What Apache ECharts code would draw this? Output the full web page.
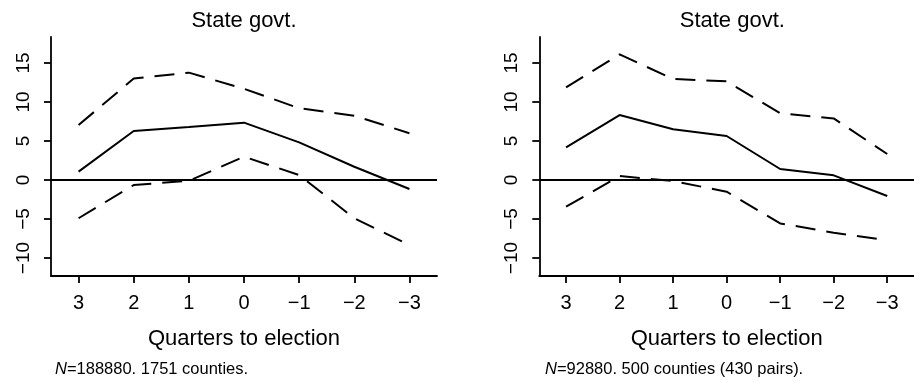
<!DOCTYPE html>
<html>
<head>
<meta charset="utf-8">
<script src="https://cdn.jsdelivr.net/npm/echarts@6/dist/echarts.min.js"></script>
<style>
html,body{margin:0;padding:0;background:#fff;}
#chart{width:914px;height:382px;}
</style>
</head>
<body>
<div id="chart"></div>
<script>
// Data
const quarters = [3, 2, 1, 0, -1, -2, -3];
const yTicks = [-10, -5, 0, 5, 10, 15];
const panelTitles = ['State govt.', 'State govt.'];
const xAxisTitle = 'Quarters to election';
const footnotes = ['=188880. 1751 counties.', '=92880. 500 counties (430 pairs).'];

const leftEstimate = [1.07, 6.28, 6.8, 7.35, 4.83, 1.7, -1.15];
const leftUpper = [7.05, 13.0, 13.76, 11.7, 9.2, 8.25, 6.0];
const leftLower = [-4.9, -0.64, -0.1, 2.99, 0.64, -4.9, -8.33];

const rightEstimate = [4.19, 8.33, 6.5, 5.64, 1.41, 0.6, -2.05];
const rightUpper = [11.88, 16.1, 12.95, 12.65, 8.55, 7.9, 3.33];
const rightLower = [-3.42, 0.51, -0.13, -1.5, -5.56, -6.75, -7.7];

const FONT = '"Liberation Sans", Arial, Helvetica, sans-serif';
const fmt = v => (v < 0 ? '\u2212' + Math.abs(v) : String(v));
const pair = arr => quarters.map((q, i) => [q, arr[i]]);

const grids = [
  {left: 51, right: 477, top: 37, bottom: 106},
  {left: 539.3, right: -11.7, top: 37, bottom: 106}
];

function xAxis(idx) {
  return {
    type: 'value', gridIndex: idx, inverse: true, min: -3.5, max: 3.5,
    splitLine: {show: false},
    axisLine: {show: true, onZero: false, lineStyle: {color: '#000', width: 1.8}},
    axisTick: {show: true, customValues: quarters, length: 7, lineStyle: {color: '#000', width: 1.8}},
    axisLabel: {customValues: quarters, formatter: fmt, color: '#000', fontSize: 20, fontFamily: FONT, margin: 17},
    name: xAxisTitle, nameLocation: 'middle', nameGap: 52,
    nameTextStyle: {color: '#000', fontSize: 22, fontFamily: FONT}
  };
}
function yAxis(idx) {
  return {
    type: 'value', gridIndex: idx, min: -12.3, max: 18.33,
    splitLine: {show: false},
    axisLine: {show: true, onZero: false, lineStyle: {color: '#000', width: 1.8}},
    axisTick: {show: true, customValues: yTicks, length: 7, lineStyle: {color: '#000', width: 1.8}},
    axisLabel: {customValues: yTicks, formatter: fmt, rotate: 90, color: '#000', fontSize: 19, fontFamily: FONT, margin: 18}
  };
}

function series(idx, est, up, lo) {
  const base = {type: 'line', xAxisIndex: idx, yAxisIndex: idx, symbol: 'none', silent: true, animation: false};
  return [
    Object.assign({}, base, {data: pair(est), lineStyle: {color: '#000', width: 2, type: 'solid'},
      markLine: {silent: true, symbol: 'none', label: {show: false},
        lineStyle: {color: '#000', width: 2, type: 'solid'}, data: [{yAxis: 0}], animation: false}}),
    Object.assign({}, base, {data: pair(up), lineStyle: {color: '#000', width: 2, type: [20, 11]}}),
    Object.assign({}, base, {data: pair(lo), lineStyle: {color: '#000', width: 2, type: [20, 11]}})
  ];
}

const titleCenters = [244, 732.3];
const footLeft = [55, 545];

const graphics = [];
panelTitles.forEach((t, i) => {
  graphics.push({type: 'text', x: titleCenters[i], y: 10,
    style: {text: t, font: '22px ' + FONT, fill: '#000', textAlign: 'center', textVerticalAlign: 'top'}});
  graphics.push({type: 'text', x: footLeft[i], y: 361,
    style: {text: '{i|N}' + footnotes[i], font: '16.5px ' + FONT, fill: '#000', textAlign: 'left', textVerticalAlign: 'top',
      rich: {i: {fontStyle: 'italic', fontSize: 16.5, fontFamily: FONT, fill: '#000'}}}});
});

const chart = echarts.init(document.getElementById('chart'), null, {renderer: 'canvas'});
chart.setOption({
  animation: false,
  backgroundColor: '#fff',
  grid: grids,
  xAxis: [xAxis(0), xAxis(1)],
  yAxis: [yAxis(0), yAxis(1)],
  series: series(0, leftEstimate, leftUpper, leftLower).concat(series(1, rightEstimate, rightUpper, rightLower)),
  graphic: graphics
});
</script>
</body>
</html>
